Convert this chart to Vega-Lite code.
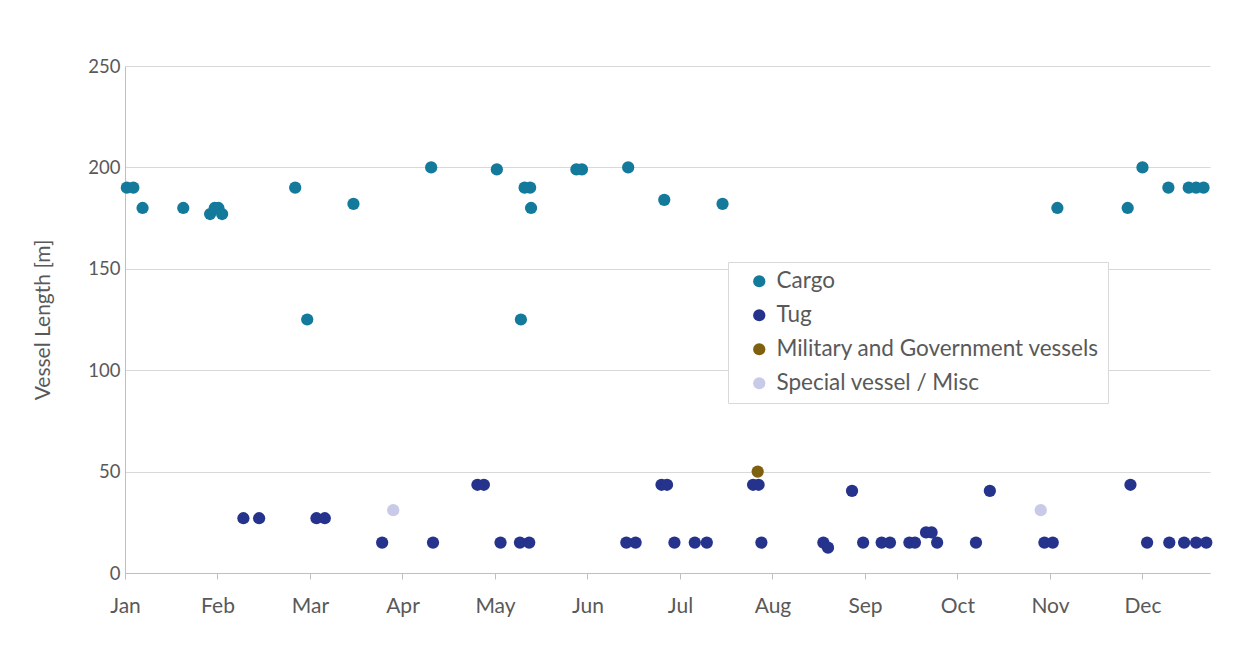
{
  "$schema": "https://vega.github.io/schema/vega-lite/v6.json",
  "width": 1085,
  "height": 507,
  "autosize": {"type": "none"},
  "padding": {"left": 125, "top": 66, "right": 39, "bottom": 84},
  "background": "white",
  "config": {
    "view": {"stroke": null},
    "font": "Lato"
  },
  "data": {
    "values": [
      {"m": 0.02, "length": 190, "type": "Cargo"},
      {"m": 0.09, "length": 190, "type": "Cargo"},
      {"m": 0.19, "length": 180, "type": "Cargo"},
      {"m": 0.63, "length": 180, "type": "Cargo"},
      {"m": 0.92, "length": 177, "type": "Cargo"},
      {"m": 0.97, "length": 180, "type": "Cargo"},
      {"m": 1.01, "length": 180, "type": "Cargo"},
      {"m": 1.05, "length": 177, "type": "Cargo"},
      {"m": 1.84, "length": 190, "type": "Cargo"},
      {"m": 1.97, "length": 125, "type": "Cargo"},
      {"m": 2.47, "length": 182, "type": "Cargo"},
      {"m": 3.31, "length": 200, "type": "Cargo"},
      {"m": 4.02, "length": 199, "type": "Cargo"},
      {"m": 4.28, "length": 125, "type": "Cargo"},
      {"m": 4.32, "length": 190, "type": "Cargo"},
      {"m": 4.38, "length": 190, "type": "Cargo"},
      {"m": 4.39, "length": 180, "type": "Cargo"},
      {"m": 4.88, "length": 199, "type": "Cargo"},
      {"m": 4.94, "length": 199, "type": "Cargo"},
      {"m": 5.44, "length": 200, "type": "Cargo"},
      {"m": 5.83, "length": 184, "type": "Cargo"},
      {"m": 6.46, "length": 182, "type": "Cargo"},
      {"m": 10.08, "length": 180, "type": "Cargo"},
      {"m": 10.84, "length": 180, "type": "Cargo"},
      {"m": 11.0, "length": 200, "type": "Cargo"},
      {"m": 11.28, "length": 190, "type": "Cargo"},
      {"m": 11.5, "length": 190, "type": "Cargo"},
      {"m": 11.58, "length": 190, "type": "Cargo"},
      {"m": 11.66, "length": 190, "type": "Cargo"},
      {"m": 1.28, "length": 27, "type": "Tug"},
      {"m": 1.45, "length": 27, "type": "Tug"},
      {"m": 2.07, "length": 27, "type": "Tug"},
      {"m": 2.16, "length": 27, "type": "Tug"},
      {"m": 2.78, "length": 15, "type": "Tug"},
      {"m": 3.33, "length": 15, "type": "Tug"},
      {"m": 3.81, "length": 43.5, "type": "Tug"},
      {"m": 3.88, "length": 43.5, "type": "Tug"},
      {"m": 4.06, "length": 15, "type": "Tug"},
      {"m": 4.27, "length": 15, "type": "Tug"},
      {"m": 4.37, "length": 15, "type": "Tug"},
      {"m": 5.42, "length": 15, "type": "Tug"},
      {"m": 5.52, "length": 15, "type": "Tug"},
      {"m": 5.8, "length": 43.5, "type": "Tug"},
      {"m": 5.86, "length": 43.5, "type": "Tug"},
      {"m": 5.94, "length": 15, "type": "Tug"},
      {"m": 6.16, "length": 15, "type": "Tug"},
      {"m": 6.29, "length": 15, "type": "Tug"},
      {"m": 6.79, "length": 43.5, "type": "Tug"},
      {"m": 6.85, "length": 43.5, "type": "Tug"},
      {"m": 6.88, "length": 15, "type": "Tug"},
      {"m": 7.55, "length": 15, "type": "Tug"},
      {"m": 7.6, "length": 12.5, "type": "Tug"},
      {"m": 7.86, "length": 40.5, "type": "Tug"},
      {"m": 7.98, "length": 15, "type": "Tug"},
      {"m": 8.18, "length": 15, "type": "Tug"},
      {"m": 8.27, "length": 15, "type": "Tug"},
      {"m": 8.48, "length": 15, "type": "Tug"},
      {"m": 8.54, "length": 15, "type": "Tug"},
      {"m": 8.66, "length": 20, "type": "Tug"},
      {"m": 8.72, "length": 20, "type": "Tug"},
      {"m": 8.78, "length": 15, "type": "Tug"},
      {"m": 9.2, "length": 15, "type": "Tug"},
      {"m": 9.35, "length": 40.5, "type": "Tug"},
      {"m": 9.94, "length": 15, "type": "Tug"},
      {"m": 10.03, "length": 15, "type": "Tug"},
      {"m": 10.87, "length": 43.5, "type": "Tug"},
      {"m": 11.05, "length": 15, "type": "Tug"},
      {"m": 11.29, "length": 15, "type": "Tug"},
      {"m": 11.45, "length": 15, "type": "Tug"},
      {"m": 11.58, "length": 15, "type": "Tug"},
      {"m": 11.69, "length": 15, "type": "Tug"},
      {"m": 6.84, "length": 50, "type": "Military and Government vessels"},
      {"m": 2.9, "length": 31, "type": "Special vessel / Misc"},
      {"m": 9.9, "length": 31, "type": "Special vessel / Misc"}
    ]
  },
  "mark": {"type": "circle", "size": 150, "opacity": 1},
  "encoding": {
    "x": {
      "field": "m",
      "type": "quantitative",
      "scale": {"domain": [0, 11.73], "nice": false, "zero": false},
      "axis": {
        "title": null,
        "values": [0, 1, 2, 3, 4, 5, 6, 7, 8, 9, 10, 11],
        "labelExpr": "['Jan','Feb','Mar','Apr','May','Jun','Jul','Aug','Sep','Oct','Nov','Dec'][datum.value]",
        "grid": false,
        "domainColor": "#bfbfbf",
        "tickColor": "#bfbfbf",
        "tickSize": 6,
        "labelPadding": 16,
        "labelFontSize": 21,
        "labelColor": "#595959",
        "labelFont": "Lato",
        "labelFlush": false
      }
    },
    "y": {
      "field": "length",
      "type": "quantitative",
      "scale": {"domain": [0, 250], "nice": false},
      "axis": {
        "title": "Vessel Length [m]",
        "values": [0, 50, 100, 150, 200, 250],
        "grid": true,
        "gridColor": "#d9d9d9",
        "domainColor": "#bfbfbf",
        "ticks": false,
        "labelPadding": 5,
        "labelFontSize": 18.5,
        "labelColor": "#595959",
        "labelFont": "Lato",
        "titleFont": "Lato",
        "titleFontSize": 21,
        "titleFontWeight": "normal",
        "titleColor": "#595959",
        "titlePadding": 34
      }
    },
    "color": {
      "field": "type",
      "type": "nominal",
      "sort": ["Cargo", "Tug", "Military and Government vessels", "Special vessel / Misc"],
      "scale": {
        "domain": ["Cargo", "Tug", "Military and Government vessels", "Special vessel / Misc"],
        "range": ["#137a9c", "#26338c", "#7f600e", "#c9c9e8"]
      },
      "legend": {
        "title": null,
        "orient": "none",
        "legendX": 603,
        "legendY": 196,
        "padding": 8,
        "symbolOffset": 12,
        "fillColor": "white",
        "strokeColor": "#d9d9d9",
        "symbolType": "circle",
        "symbolSize": 150,
        "symbolStrokeWidth": 0,
        "labelFontSize": 22.5,
        "labelFont": "Lato",
        "labelColor": "#595959",
        "labelOffset": 6,
        "rowPadding": 11,
        "labelLimit": 400
      }
    },
    "order": {"field": "type", "sort": "descending"}
  }
}
